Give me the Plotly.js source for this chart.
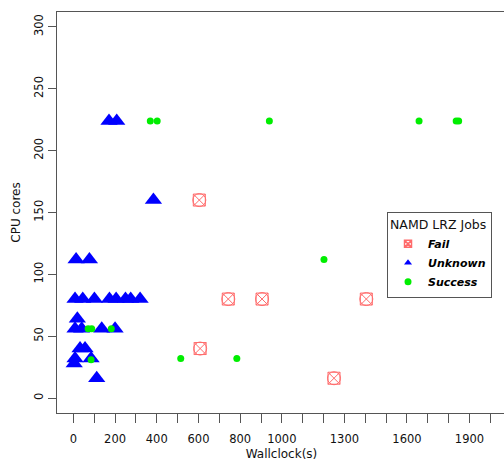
<!DOCTYPE html>
<html>
<head>
<meta charset="utf-8">
<script src="https://cdn.plot.ly/plotly-3.0.1.min.js"></script>
<style>
html, body { margin: 0; padding: 0; overflow: hidden; background: #fff; }
#chart { width: 510px; height: 464px; }
</style>
</head>
<body>
<div id="chart"></div>
<script>
// Job outcomes (Wallclock seconds, CPU cores)
const failX = [604, 743, 905, 1405, 608, 1250];
const failY = [160, 80, 80, 80, 40, 16];

const unknownX = [171, 208, 384, 13, 77, 8, 45, 101, 173, 205, 250, 275, 320, 19, 8, 40, 136, 200, 32, 56, 8, 85, 4, 112];
const unknownY = [224, 224, 160, 112, 112, 80, 80, 80, 80, 80, 80, 80, 80, 64, 56, 56, 56, 56, 40, 40, 32, 32, 28, 16];

const successX = [369, 402, 940, 1658, 1836, 1848, 1202, 71, 88, 182, 515, 784, 85];
const successY = [224, 224, 224, 224, 224, 224, 112, 56, 56, 56, 32, 32, 31];

const xTickVals = [0,100,200,300,400,500,600,700,800,900,1000,1100,1200,1300,1400,1500,1600,1700,1800,1900,2000];
const xTickText = ['0','','200','','400','','600','','800','','1000','','','1300','','','1600','','','1900',''];
const yTickVals = [0, 50, 100, 150, 200, 250, 300];
const yTickText = ['0', '50', '100', '150', '200', '250', '300'];

const legendNames = ['Fail', 'Unknown', 'Success'];

const FONT = 'DejaVu Sans, Liberation Sans, Arial, sans-serif';
const RED = '#FF6B6B';
const BLUE = '#0000FF';
const GREEN = '#00EE00';
const AX = '#555555';

const traces = [
  { x: failX, y: failY, type: 'scatter', mode: 'markers', showlegend: false, hoverinfo: 'skip',
    marker: { symbol: 'square-x-open', size: 12, color: RED, line: { color: RED, width: 1 } } },
  { x: failX, y: failY, type: 'scatter', mode: 'markers', showlegend: false, hoverinfo: 'skip',
    marker: { symbol: 'circle-open', size: 13, color: RED, line: { color: RED, width: 1 } } },
  { x: unknownX, y: unknownY, type: 'scatter', mode: 'markers', showlegend: false,
    marker: { symbol: 'triangle-up', size: 15, color: BLUE } },
  { x: successX, y: successY, type: 'scatter', mode: 'markers', showlegend: false,
    marker: { symbol: 'circle', size: 7, color: GREEN } },
  // legend entries
  { x: [null], y: [null], type: 'scatter', mode: 'markers', name: legendNames[0],
    marker: { symbol: 'square-x-open', size: 7, color: RED, line: { color: RED, width: 1.5 } } },
  { x: [null], y: [null], type: 'scatter', mode: 'markers', name: legendNames[1],
    marker: { symbol: 'triangle-up', size: 7, color: BLUE } },
  { x: [null], y: [null], type: 'scatter', mode: 'markers', name: legendNames[2],
    marker: { symbol: 'circle', size: 7, color: GREEN } }
];

const layout = {
  width: 510, height: 464,
  margin: { l: 57, r: 4, t: 12, b: 51 },
  paper_bgcolor: '#fff', plot_bgcolor: '#fff',
  font: { family: FONT, size: 11.5, color: '#111' },
  showlegend: true,
  xaxis: {
    range: [-78.5, 2075],
    tickmode: 'array', tickvals: xTickVals, ticktext: xTickText,
    ticks: 'outside', ticklen: 9, tickcolor: AX, tickwidth: 1,
    ticklabelstandoff: 6,
    showline: true, linecolor: AX, linewidth: 1, mirror: true,
    showgrid: false, zeroline: false,
    tickfont: { family: FONT, size: 11.5, color: '#111' },
    title: { text: 'Wallclock(s)', font: { family: FONT, size: 12, color: '#111' }, standoff: 4 }
  },
  yaxis: {
    range: [-12.1, 312],
    tickmode: 'array', tickvals: yTickVals, ticktext: yTickText,
    ticks: 'outside', ticklen: 8, tickcolor: AX, tickwidth: 1,
    tickangle: -90,
    showline: true, linecolor: AX, linewidth: 1, mirror: true,
    showgrid: false, zeroline: false,
    tickfont: { family: FONT, size: 11.5, color: '#111' },
    title: { text: 'CPU cores', font: { family: FONT, size: 12, color: '#111' }, standoff: 9 }
  },
  legend: {
    x: 0.735, y: 0.501, xanchor: 'left', yanchor: 'top',
    bgcolor: '#fff', bordercolor: AX, borderwidth: 1,
    itemwidth: 30,
    font: { family: FONT, size: 11, color: '#000', style: 'italic', weight: 'bold' },
    title: { text: 'NAMD LRZ Jobs', font: { family: FONT, size: 12.5, color: '#111', style: 'normal', weight: 'normal' } },
    tracegroupgap: 0
  }
};

Plotly.newPlot('chart', traces, layout, { displayModeBar: false, staticPlot: true });
</script>
</body>
</html>
